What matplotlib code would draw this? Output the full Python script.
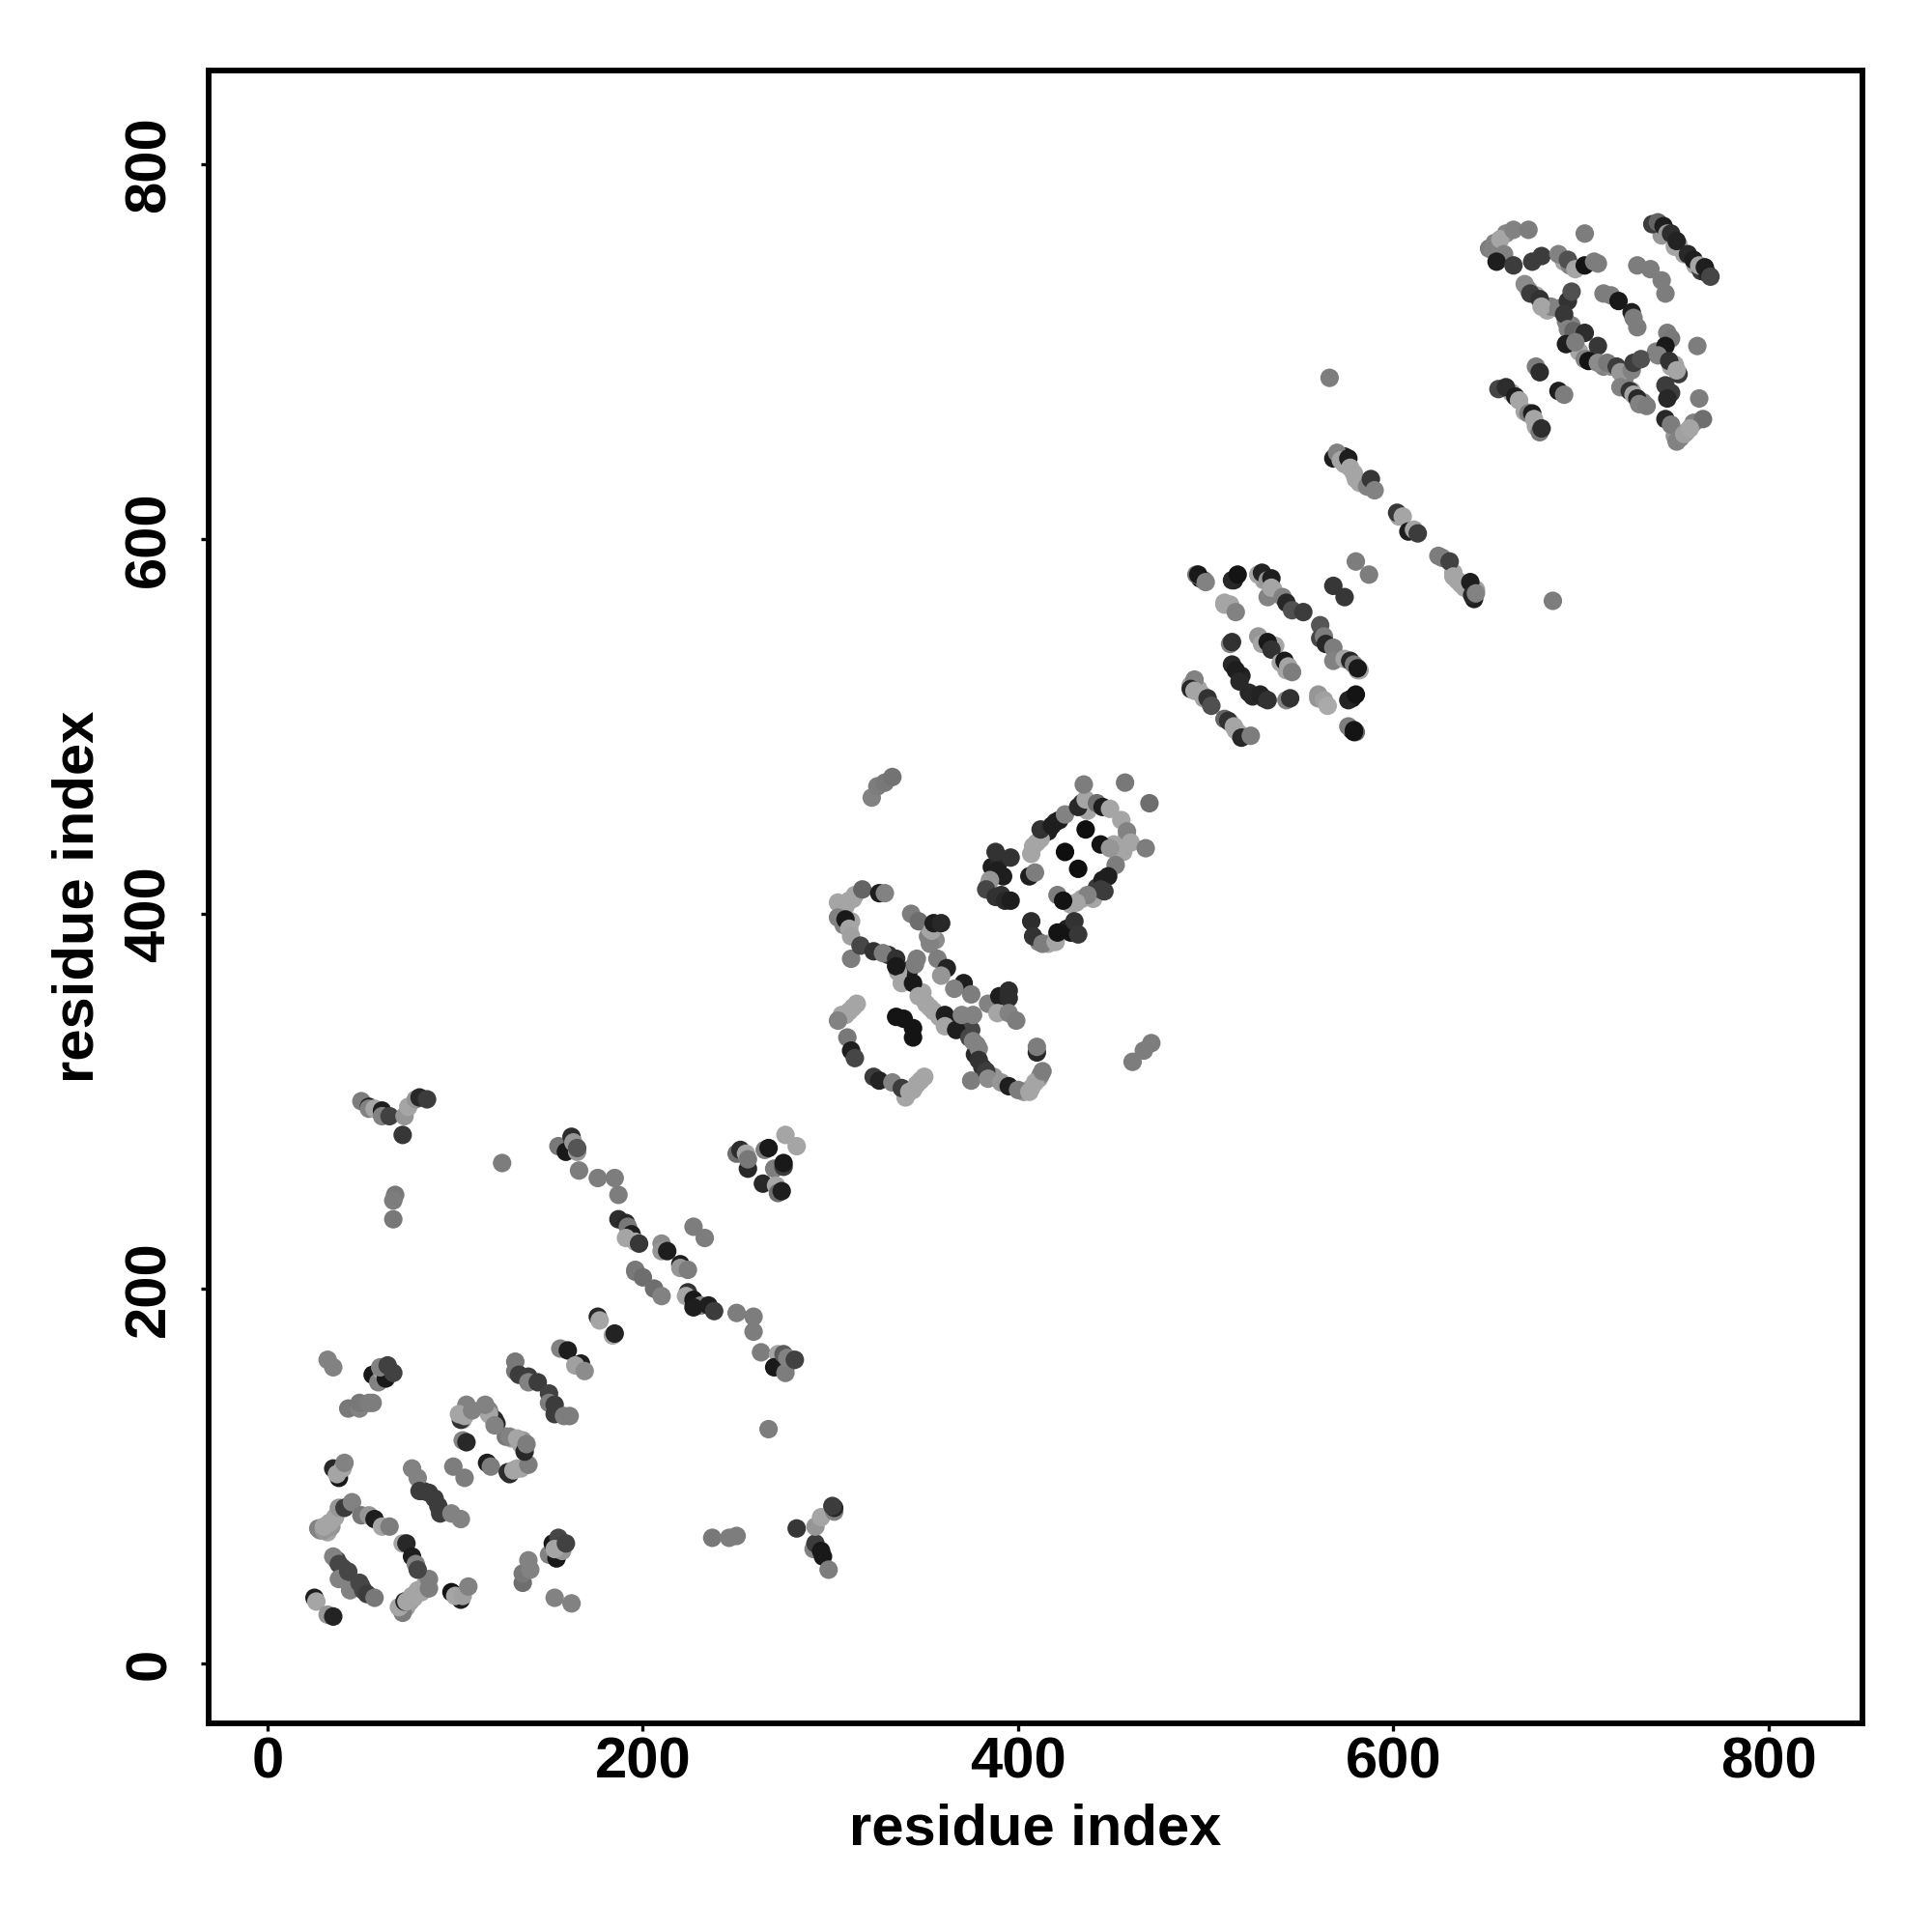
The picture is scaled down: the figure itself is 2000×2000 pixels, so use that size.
import matplotlib
matplotlib.use("Agg")
import matplotlib.pyplot as plt

# (residue i, residue j, grey level 0-255)
bottom_left = [(25,35,30),(26,33,165),(32,26,150),(35,25,35),
 (35,57,130),(38,53,70),(38,45,130),(43,49,70),(44,39,130),(49,43,70),(51,39,70),(53,37,60),(57,35,120),
 (72,27,125),(70,30,165),(73,33,35),(74,33,165),(77,36,165),(80,39,165),(86,40,125),(86,45,125),
 (98,38,20),(103,34,30),(100,36,165),(104,36,160),(107,41,130),
 (153,35,130),(162,32,130),(136,43,110),(136,48,120),(139,55,130),(140,50,130),
 (150,58,130),(152,64,25),(154,56,25),(155,67,70),(157,60,150),(153,61,165),(159,64,65),
 (237,67,120),(246,67,125),(250,68,125),
 (27,72,130),(30,71,150),(30,73,165),(33,75,165),(36,78,165),(38,83,150),(41,83,60),(45,86,130),
 (50,79,120),(54,79,150),(57,77,30),(61,73,165),(65,73,125),(72,64,165),(74,64,40),(77,57,30),(79,53,130),(80,50,70),
 (38,99,25),(35,104,40),(37,101,165),(40,104,165),(41,107,130),
 (77,104,130),(80,99,130),(81,92,60),(86,91,60),(91,84,60),(92,80,60),(98,80,130),(103,77,130),
 (99,105,125),(105,99,125),(117,107,30),(119,105,125),
 (128,102,45),(131,103,165),(133,104,165),(139,106,125),
 (127,121,120),(129,121,130),(133,120,165),(137,113,40),(138,117,125),
 (121,130,40),(118,133,165),(116,138,130),(121,127,130),
 (104,119,130),(106,118,40),(103,130,50),(105,132,165),(106,138,130),(102,133,165),(109,135,130),
 (32,162,130),(35,158,130),
 (56,154,25),(59,150,130),(61,156,165),(63,152,25),(60,158,130),(64,159,65),(67,155,65),
 (43,136,120),(49,136,130),(49,139,120),(54,139,125),(56,139,125),
 (132,161,120),(132,156,120),(134,154,60),(139,153,60),(139,150,130),(144,150,60),(150,144,65),
 (150,139,125),(153,138,60),(153,133,60),(158,132,125),(161,132,125),
 (156,168,130),(160,167,30),(167,160,30),(164,159,160),(169,156,140),
 (176,185,40),(177,183,165),(184,175,165),(185,176,35),
]

upper_left = [(50,300,125),(54,297,35),(54,296,130),(57,296,165),(61,295,30),(61,292,130),(65,292,65),
 (73,292,150),(75,297,165),(79,301,150),(81,302,40),(85,301,60),(72,282,55),
 (68,250,120),(67,247,125),(67,237,120),
 (282,72,55),(291,61,130),(292,64,60),(295,60,25),(296,57,25),(299,50,125),
 (292,73,150),(295,78,165),(302,81,130),(302,83,40),(301,84,60),
]

middle_cross = [(125,267,125),(155,276,120),(159,273,25),(162,281,45),(163,278,150),(165,273,150),(165,275,85),
 (166,263,125),(176,259,125),(185,259,125),(187,250,125),
 (187,237,45),(191,235,40),(192,233,120),(194,229,30),(191,227,165),(196,225,165),(198,224,55),
 (210,224,140),(210,220,150),(213,220,30),(220,213,30),(220,211,150),(224,210,125),(227,233,125),(233,227,125),
 (196,210,120),(196,209,120),(200,206,110),(206,200,110),(210,196,130),
 (224,198,50),(223,196,165),(227,194,25),(231,191,130),(227,190,30),(235,191,30),(238,188,60),
 (250,187,125),(259,185,125),(259,177,125),(263,166,125),(272,165,165),(270,158,25),(276,158,30),(276,155,125),
 (275,165,90),(277,163,130),(281,162,65),
 (250,272,110),(252,274,45),(256,264,40),(255,272,165),(256,269,120),(265,274,125),(267,275,25),
 (270,264,125),(275,265,60),(275,267,25),(264,256,40),(271,255,165),(272,251,110),(274,252,30),
 (276,282,165),(282,276,165),(267,125,125),
]

lobe_a = [(322,462,130),(325,468,125),(329,470,120),(333,473,115),
 (304,406,165),(304,398,130),(308,397,25),(310,407,165),(313,410,165),(317,413,100),(326,411,30),(329,411,130),
 (310,392,165),(311,376,125),(311,388,160),(316,383,70),(323,380,50),(328,379,125),(335,376,50),(335,372,25),
 (345,373,125),(346,376,125),(338,363,165),(344,363,25),(347,356,165),
 (343,400,125),(347,396,110),(353,384,130),(354,391,165),(355,395,30),(359,395,40),
 (357,376,125),(362,371,35),(359,367,150),(371,363,30),(366,360,130),(375,357,125),
 (355,348,165),(361,346,30),(361,340,165),(367,338,30),(370,346,130),(376,346,130),(374,334,70),(376,332,130),
 (379,328,130),(379,322,50),(384,352,130),(390,356,30),(395,359,45),(395,355,45),(389,347,165),(395,347,130),(399,343,125),
 (312,350,165),(308,346,165),(304,343,130),(309,334,120),(311,327,30),(313,323,70),
 (335,345,20),(339,344,20),(344,339,20),(344,334,20),
 (323,313,60),(326,311,35),(333,310,130),(338,307,60),(342,305,165),(346,309,165),(350,313,165),
 (375,311,125),(383,316,60),(384,312,140),(391,310,150),(395,308,30),(400,306,125),(406,305,165),(409,310,165),
 (413,316,125),(410,326,40),(410,329,125),
 (461,321,125),(467,327,125),(471,331,125),
]

lobe_b = [(388,433,50),(396,430,50),(389,423,30),(385,418,150),(383,413,70),(388,409,50),(393,407,40),(396,407,30),
 (407,432,165),(406,420,30),(409,422,125),(412,440,165),(412,445,50),(418,447,30),(422,450,30),(425,453,130),
 (432,457,40),(436,461,165),(435,469,125),(442,459,110),(445,457,30),(449,456,165),(455,450,165),(458,444,130),
 (460,438,165),(456,433,165),(468,435,125),(457,470,120),(470,459,110),
 (436,445,15),(444,437,20),(449,435,150),(452,426,125),(425,433,15),(432,424,15),
 (448,420,30),(444,413,60),(446,412,60),(437,410,130),(431,406,165),(421,410,125),(424,407,20),
 (407,396,45),(408,388,50),(413,384,125),(420,385,165),(421,390,20),(430,396,50),(432,389,55),
]

domain_500 = [(495,581,125),(496,581,25),(500,577,130),(514,578,40),(517,581,20),
 (528,581,165),(530,582,35),(533,569,130),(533,578,150),(535,579,30),(535,574,165),(541,569,130),(543,566,40),(546,562,80),(552,561,60),
 (510,566,165),(513,565,165),(516,561,130),(513,544,130),(514,545,50),
 (528,548,150),(530,544,165),(533,545,25),(535,541,50),(540,534,165),(542,535,25),(544,532,165),(546,529,125),
 (561,554,85),(561,547,70),(563,548,125),(564,544,40),(568,542,125),(568,535,130),(574,536,165),(577,535,40),(579,533,125),(581,530,165),(581,531,25),
 (568,575,55),(574,569,55),(580,588,125),(587,581,125),
 (514,533,40),(516,530,30),(518,524,40),(523,518,40),(529,517,35),(533,514,50),
 (543,514,130),(545,515,50),(560,517,150),(563,514,160),(565,511,170),(576,514,35),(580,517,20),
 (576,500,125),(580,497,110),(579,498,25),(579,497,20),
 (494,525,130),(492,520,40),(494,519,165),(498,517,165),(501,515,50),(503,511,80),
 (510,504,100),(512,503,50),(515,500,165),(518,496,165),(519,494,40),(524,495,125),
 (566,686,125),(685,567,125),
]

strands_600 = [(568,643,30),(570,646,130),(572,642,165),(576,643,30),(577,638,165),(580,632,165),(586,628,130),(588,632,55),(590,626,130),
 (602,614,55),(605,612,165),(608,604,30),(611,605,165),(613,603,60),
 (624,591,125),(630,588,65),(632,580,165),(641,577,30),(642,570,40),(644,571,130),
]

domain_700 = [(653,754,130),(657,760,165),(664,765,130),(672,765,125),(659,752,130),(655,748,30),(664,746,60),
 (674,748,60),(679,751,60),(688,752,130),(693,749,80),(697,744,165),(702,746,20),(707,748,125),(709,747,125),(702,763,125),
 (670,736,140),(673,731,60),(678,728,50),(679,724,165),(688,723,130),(693,727,50),(695,732,80),(691,720,55),
 (693,712,130),(696,711,100),(702,710,45),(692,704,30),(697,705,125),(709,703,55),(702,696,130),(704,695,20),
 (709,694,140),(714,694,120),(719,692,60),(721,689,150),(727,690,130),(728,694,60),(732,696,80),
 (721,681,130),(726,679,50),(728,677,165),(730,675,40),(731,672,130),(735,671,125),
 (712,731,125),(716,730,125),(720,727,25),(727,721,30),(728,718,125),(730,713,125),
 (730,746,125),(737,744,125),(743,738,125),(745,731,125),
 (738,768,60),(741,769,100),(744,767,30),(746,763,150),(748,763,45),(750,756,165),(751,759,35),(757,752,40),(760,749,30),(763,746,165),(766,745,30),(769,740,70),
 (746,710,125),(748,707,120),(745,703,25),(741,698,130),(747,695,50),(751,690,165),(748,678,60),(746,675,40),
 (762,703,125),(763,675,125),(765,664,110),(745,664,40),(748,661,125),(751,652,130),(753,654,130),(755,656,160),(758,659,165),
 (676,692,125),(678,689,45),(688,679,30),(691,677,125),
 (656,680,70),(660,681,45),(665,676,30),(667,674,165),(672,667,125),(674,667,30),(675,664,165),(678,657,120),(679,659,45),
]

# points hidden in the dense strands, drawn beneath the ones above
dense_low = [(31,72,165),(32,70,165),(34,73,150),(28,71,140),(74,30,165),(76,33,160),(78,35,165),(82,38,165),(84,42,165),
 (40,51,70),(46,41,70),(50,41,65),(37,55,70),(83,92,60),(89,88,60),(106,135,165),(104,130,160),(120,131,165),
 (118,135,130),(122,128,40),(130,120,165),(135,117,165),(136,119,150),(135,104,165),(129,101,40),(103,36,20),(152,60,30),(155,62,150),
]
dense_mid = [(306,402,165),(308,404,165),(312,408,165),(311,396,165),(307,394,130),(349,358,165),(351,352,165),(353,350,165),
 (364,343,40),(358,345,165),(372,340,30),(375,338,70),(378,330,130),(377,325,40),(306,346,165),(310,348,165),(314,352,165),
 (340,302,165),(344,306,165),(348,311,165),(403,305,150),(407,307,165),(411,312,165),(412,314,130),(381,318,50),(387,313,150),
 (340,366,40),(342,370,30),(336,369,165),(331,378,50),(356,386,140),(352,388,130),(353,392,165),
 (408,436,165),(410,438,165),(414,443,50),(420,449,40),(416,444,30),(434,459,40),(437,455,165),(451,437,165),(454,436,165),
 (458,441,165),(453,433,165),(440,408,165),(434,408,165),(442,414,60),(428,405,165),(445,418,30),(411,385,130),(416,384,165),
 (386,425,30),(390,428,40),(384,415,150),(392,420,30),(391,410,50),(426,392,30),(428,390,20),
]
dense_high = [(497,579,25),(499,578,110),(515,578,30),(510,565,165),(531,578,160),(536,573,165),(519,527,35),(525,516,40),(531,515,50),
 (560,515,150),(578,515,25),(492,522,165),(496,520,165),(499,515,160),(513,502,165),(516,498,165),(582,530,165),(537,543,165),(543,530,165),(578,498,20),
 (574,640,165),(579,635,165),(582,630,165),(632,582,165),(634,578,165),(636,576,165),(638,574,165),(574,644,30),(569,644,60),(603,612,165),(626,590,125),(644,573,165),(643,568,30),
 (651,755,125),(654,758,130),(655,754,165),(660,763,135),(691,748,165),(694,746,130),(672,733,150),(676,730,165),(682,722,165),(684,724,130),
 (692,716,130),(695,714,130),(699,700,165),(705,696,150),(712,692,130),(716,692,140),(724,688,150),(723,684,130),(727,679,165),(733,673,130),
 (740,700,130),(748,692,165),(750,693,165),(752,688,60),(745,682,60),(740,768,70),(743,762,150),(752,757,165),(755,752,165),(761,746,165),(764,743,60),(767,742,40),
 (750,655,150),(756,657,165),(760,662,130),(663,678,165),(670,668,165),(676,660,165),
]

x_ticks = [0, 200, 400, 600, 800]
y_ticks = [0, 200, 400, 600, 800]
axis_label = "residue index"

plt.rcParams["font.family"] = ["Liberation Sans", "DejaVu Sans"]
plt.rcParams["font.weight"] = "bold"

fig = plt.figure(figsize=(20, 20), dpi=100)
ax = fig.add_axes([216/2000, (2000-1784)/2000, 1712/2000, 1711/2000])

for group in [dense_low, dense_mid, dense_high, bottom_left, upper_left, middle_cross, lobe_a, lobe_b, domain_500, strands_600, domain_700]:
    xs = [p[0] for p in group]
    ys = [p[1] for p in group]
    cs = [(p[2]/255,)*3 for p in group]
    ax.scatter(xs, ys, s=190, c=cs, linewidths=0, zorder=2)

ax.set_xlim(-31.4, 850)
ax.set_ylim(-32, 850)
ax.set_xticks(x_ticks)
ax.set_yticks(y_ticks)
ax.tick_params(axis="both", length=6, width=2.4, color="black", labelsize=43, pad=4)
ax.tick_params(axis="y", labelrotation=90, pad=18)
for lab in ax.get_yticklabels():
    lab.set_va("center")
    lab.set_fontweight("bold")
for lab in ax.get_xticklabels():
    lab.set_fontweight("bold")
for s in ax.spines.values():
    s.set_linewidth(4.2)
ax.set_xlabel(axis_label, fontsize=43, fontweight="bold")
ax.set_ylabel(axis_label, fontsize=43, fontweight="bold")
ax.xaxis.set_label_coords((1072-216)/1712, (1784-1894)/1711, transform=ax.transAxes)
ax.xaxis.label.set_va("center")
ax.yaxis.set_label_coords((81-216)/1712, (1784-928)/1711, transform=ax.transAxes)
ax.yaxis.label.set_va("center")
fig.savefig("out.png", dpi=100, facecolor="white")
